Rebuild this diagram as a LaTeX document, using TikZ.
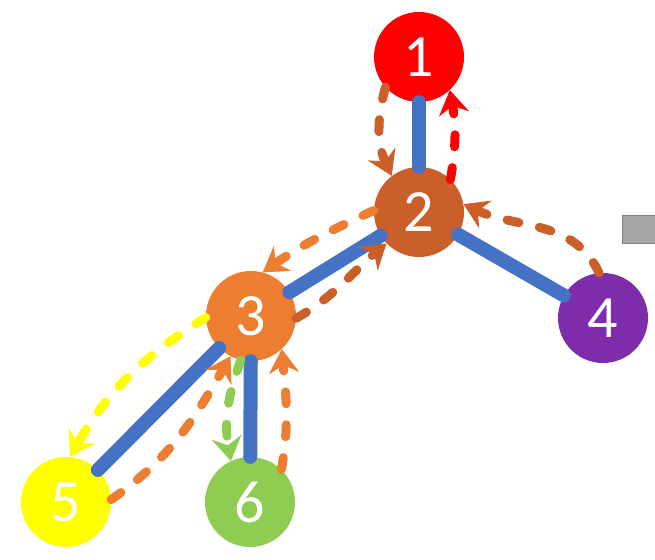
\documentclass[tikz,border=0pt]{standalone}
\usepackage{fontspec}
\setmainfont{Carlito}
\usetikzlibrary{arrows.meta}

\definecolor{redv}{HTML}{FF0000}
\definecolor{brownv}{HTML}{CB5F2A}
\definecolor{orangev}{HTML}{ED7D31}
\definecolor{purplev}{HTML}{7E2DAA}
\definecolor{yellowv}{HTML}{FFFF00}
\definecolor{greenv}{HTML}{8FCC52}
\definecolor{edgeblue}{HTML}{4472C4}
\definecolor{grayv}{HTML}{A6A6A6}
\definecolor{grayd}{HTML}{7F7F7F}

\tikzset{
  vertex/.style={circle, minimum size=90pt, inner sep=0pt, text=white,
    font=\fontsize{60}{60}\selectfont},
  edge/.style={line width=14pt, color=edgeblue, line cap=round},
  walk/.style={line width=9pt, line cap=round, dash pattern=on 12pt off 21pt,
    -{Stealth[length=24pt, width=30pt, inset=8pt]}},
}

\begin{document}
\begin{tikzpicture}[x=1pt, y=-1pt]

\useasboundingbox (0,0) rectangle (655,559);

\foreach \i/\x/\y/\c in {1/419/57/redv, 2/419/212/brownv, 3/251/316/orangev,
    4/603/318/purplev, 5/66/502/yellowv, 6/250/502/greenv}
    \node[vertex, fill=\c] (\i) at (\x,\y) {\i};

\foreach \a/\b in {1/2, 2/3, 2/4, 3/5, 3/6}
    \draw[edge] (\a) -- (\b);

% walk round the tree
\draw[walk, brownv] (1.222) to[out=255, in=115] (2.127);
\draw[walk, redv] (2.46) to[out=80, in=280] (1.313);
\draw[walk, brownv] (4.95) to[out=115, in=-25] (2.10);
\draw[walk, orangev] (2.178) to[out=205, in=35] (3.75);
\draw[walk, brownv] (3.-3) to[out=30, in=220] (2.224);
\draw[walk, yellowv] (3.182) to[out=212, in=60] (5.85);
\draw[walk, orangev] (5.3) to[out=35, in=240] (3.243);
\draw[walk, greenv] (3.257) to[out=250, in=100] (6.115);
\draw[walk, orangev] (6.46) to[out=80, in=275] (3.313);

\draw[fill=grayv, draw=grayd, line width=1pt] (622,215) rectangle (660,243);

\end{tikzpicture}
\end{document}
